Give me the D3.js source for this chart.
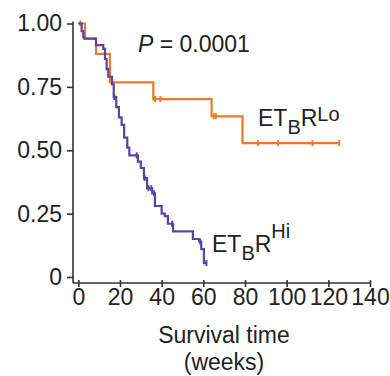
<!DOCTYPE html>
<html>
<head>
<meta charset="utf-8">
<script src="https://cdn.jsdelivr.net/npm/d3@7"></script>
<style>
  body { margin: 0; background: #fff; }
  svg { display: block; font-family: "Liberation Sans", Arial, Helvetica, sans-serif; }
</style>
</head>
<body>
<div id="chart"></div>
<script>
// --- data (weeks / survival fraction) ---
const loTimes = [0, 3.2, 8.5, 15.2, 36, 64, 78.8, 125.2];
const loSurv = [1, 0.94, 0.88, 0.768, 0.702, 0.634, 0.528, 0.528];
const loCensor = [1, 36.8, 39.4, 65, 66, 86.3, 95.9, 112.4, 125.2];

const hiTimes = [0, 1.6, 2.4, 3, 8.5, 12, 12.8, 13.6, 14.4, 16.2, 17, 18.2, 19.5, 20.8, 22, 23.5, 24.5,
  28.6, 30, 31.5, 33, 35.5, 36.8, 40, 41.5, 43, 45.5, 55, 58, 59, 60.3, 61.5];
const hiSurv = [1, 0.97, 0.945, 0.94, 0.915, 0.9, 0.86, 0.82, 0.79, 0.76, 0.71, 0.67, 0.63, 0.6, 0.55, 0.51, 0.48,
  0.455, 0.43, 0.39, 0.35, 0.33, 0.28, 0.25, 0.24, 0.21, 0.18, 0.15, 0.14, 0.11, 0.055, 0.055];
const hiCensor = [17.3, 28, 31.8, 33.7, 35, 36.3, 45, 58.5, 61.5];

const xTicks = [0, 20, 40, 60, 80, 100, 120, 140];
const yTicks = [0, 0.25, 0.5, 0.75, 1];
const yTickLabels = ["0", "0.25", "0.50", "0.75", "1.00"];

const W = 390, H = 376;
const orange = "#ec7a2e", purple = "#5a44a0", axisCol = "#333";

const svg = d3.select("#chart").append("svg")
  .attr("width", W).attr("height", H);

const x = d3.scaleLinear().domain([0, 140]).range([78.3, 370]);
const y = d3.scaleLinear().domain([0, 1]).range([277, 23.5]);
const axisX = 73, axisY = 283;

// step lookup for censor marks
const survAt = (times, surv, t) => surv[Math.max(0, d3.bisectRight(times, t) - 1)];

// --- axes ---
svg.append("line")
  .attr("x1", axisX).attr("x2", axisX)
  .attr("y1", y(1) - 2).attr("y2", axisY)
  .attr("stroke", axisCol).attr("stroke-width", 1.6);
svg.append("line")
  .attr("x1", axisX).attr("x2", x(140) + 1)
  .attr("y1", axisY).attr("y2", axisY)
  .attr("stroke", axisCol).attr("stroke-width", 1.6);

const yAxis = svg.append("g")
  .attr("transform", `translate(${axisX},0)`)
  .call(d3.axisLeft(y).tickValues(yTicks).tickSize(6).tickPadding(5)
    .tickFormat((d, i) => yTickLabels[i]));
yAxis.select(".domain").remove();
yAxis.selectAll("line").attr("stroke", axisCol).attr("stroke-width", 1.6);
yAxis.selectAll("text").attr("font-size", 23).attr("fill", "#222")
  .attr("font-family", "'Liberation Sans', Arial, sans-serif");

const xAxis = svg.append("g")
  .attr("transform", `translate(0,${axisY})`)
  .call(d3.axisBottom(x).tickValues(xTicks).tickSize(4));
xAxis.select(".domain").remove();
xAxis.selectAll("line").attr("y1", -3).attr("y2", 4)
  .attr("stroke", axisCol).attr("stroke-width", 1.6);
xAxis.selectAll("text").attr("y", 22).attr("dy", 0).attr("font-size", 23).attr("fill", "#222")
  .attr("font-family", "'Liberation Sans', Arial, sans-serif");

svg.append("text").attr("x", 224).attr("y", 343).attr("text-anchor", "middle")
  .attr("font-size", 23).attr("fill", "#222").text("Survival time");
svg.append("text").attr("x", 224).attr("y", 370).attr("text-anchor", "middle")
  .attr("font-size", 23).attr("fill", "#222").text("(weeks)");

// --- survival curves ---
const line = d3.line()
  .x(d => x(d[0])).y(d => y(d[1]))
  .curve(d3.curveStepAfter);

function drawCurve(times, surv, censor, color) {
  svg.append("path")
    .datum(times.map((t, i) => [t, surv[i]]))
    .attr("d", line)
    .attr("fill", "none").attr("stroke", color).attr("stroke-width", 2.2);
  svg.selectAll(null)
    .data(censor)
    .join("line")
    .attr("x1", d => x(d)).attr("x2", d => x(d))
    .attr("y1", d => y(survAt(times, surv, d)) - 3)
    .attr("y2", d => y(survAt(times, surv, d)) + 3)
    .attr("stroke", color).attr("stroke-width", 2);
}
drawCurve(loTimes, loSurv, loCensor, orange);
drawCurve(hiTimes, hiSurv, hiCensor, purple);

// --- annotations ---
const p = svg.append("text").attr("x", 138).attr("y", 52).attr("font-size", 23).attr("fill", "#222");
p.append("tspan").attr("font-style", "italic").text("P");
p.append("tspan").text(" = 0.0001");

function etbr(x0, y0, sup, supDy) {
  const t = svg.append("text").attr("x", x0).attr("y", y0).attr("font-size", 23).attr("fill", "#222");
  t.append("tspan").text("ET");
  t.append("tspan").attr("font-size", 20).attr("dy", 8).text("B");
  t.append("tspan").attr("dy", -8).text("R");
  t.append("tspan").attr("font-size", 20).attr("dy", supDy).text(sup);
}
etbr(258, 126, "Lo", -5);
etbr(212, 252, "Hi", -14);
</script>
</body>
</html>
